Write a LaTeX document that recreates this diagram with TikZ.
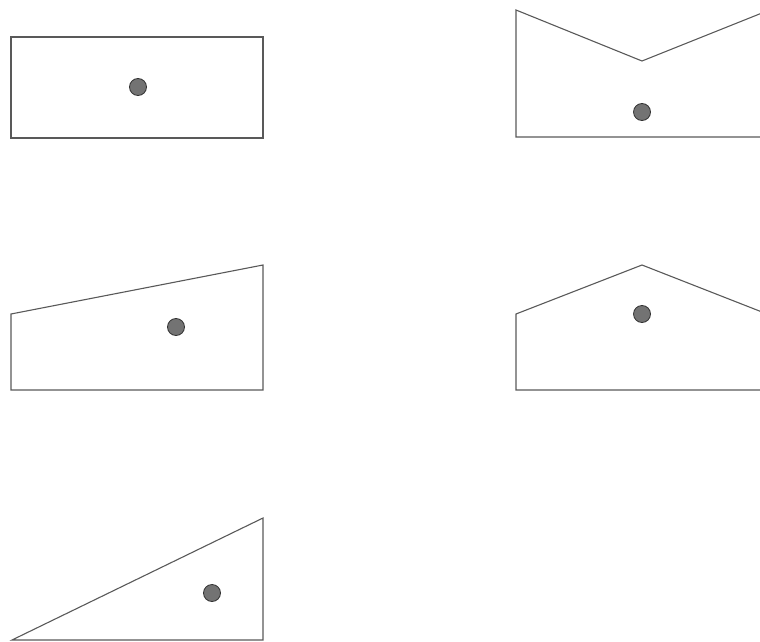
\documentclass[tikz,border=0pt]{standalone}
\begin{document}
\begin{tikzpicture}[x=1pt,y=-1pt,
  outline/.style={draw=black!65,line width=1.1pt,line join=miter},
  dot/.style={fill=black!55,draw=black!80,line width=0.8pt}]
\useasboundingbox (0,0) rectangle (760,642);
\clip (0,0) rectangle (760,642);
% shape 1
\draw[outline] (11,37) rectangle (263,138);
\fill[dot] (138,87) circle (8.5);
% shape 2
\draw[outline] (516,10) -- (642,61) -- (762,13) -- (762,137) -- (516,137) -- cycle;
\fill[dot] (642,112) circle (8.5);
% shape 3
\draw[outline] (11,314) -- (263,265) -- (263,390) -- (11,390) -- cycle;
\fill[dot] (176,327) circle (8.5);
% shape 4
\draw[outline] (516,314) -- (642,265) -- (762,312) -- (762,390) -- (516,390) -- cycle;
\fill[dot] (642,314) circle (8.5);
% shape 5
\draw[outline] (12,640) -- (263,518) -- (263,640) -- cycle;
\fill[dot] (212,593) circle (8.5);
\end{tikzpicture}
\end{document}
